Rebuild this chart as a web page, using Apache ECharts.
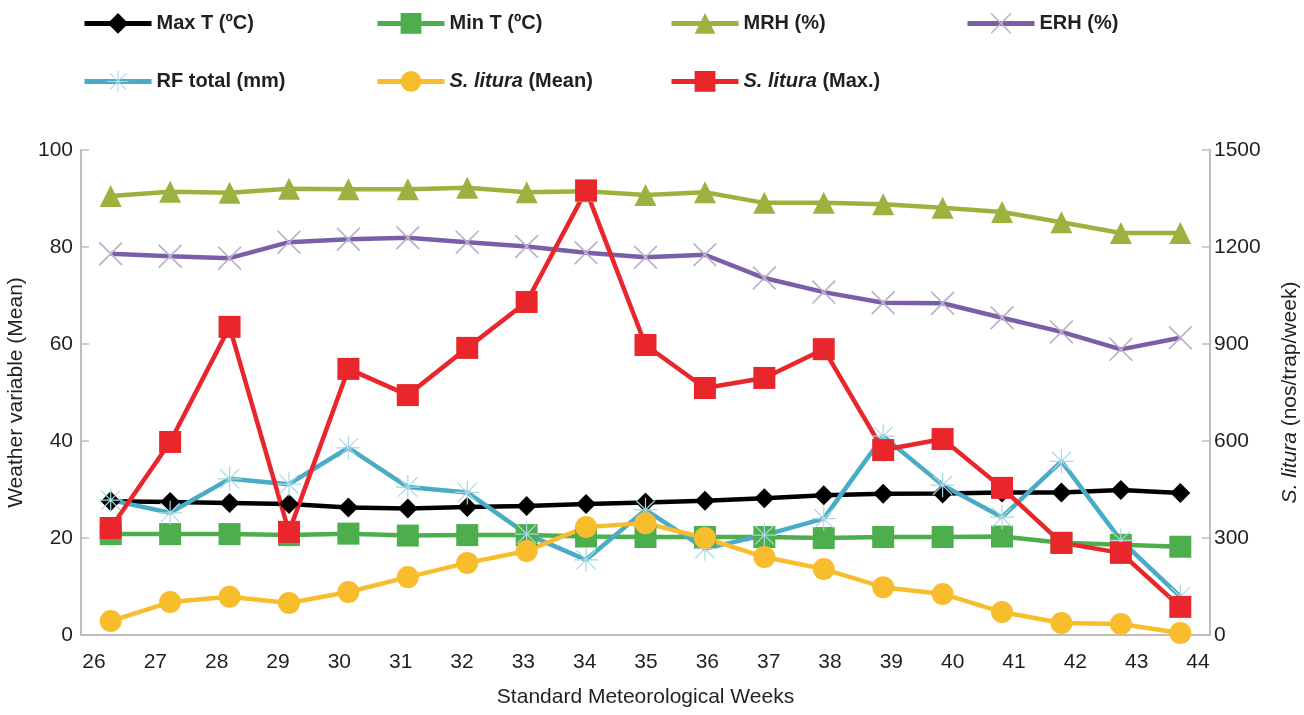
<!DOCTYPE html>
<html>
<head>
<meta charset="utf-8">
<script src="https://cdn.jsdelivr.net/npm/echarts@6/dist/echarts.min.js"></script>
<style>
html,body{margin:0;padding:0;background:#fff;}
#c{width:1304px;height:715px;}
</style>
</head>
<body>
<div id="c"></div>
<script>
var weeks = [26,27,28,29,30,31,32,33,34,35,36,37,38,39,40,41,42,43,44];
var maxT = [27.6,27.4,27.2,27.0,26.3,26.1,26.4,26.6,27.0,27.3,27.7,28.2,28.8,29.1,29.2,29.4,29.4,29.9,29.3];
var minT = [20.8,20.8,20.8,20.6,20.9,20.5,20.6,20.6,20.3,20.2,20.2,20.2,20.0,20.2,20.2,20.3,19.0,18.6,18.2];
var mrh = [90.5,91.4,91.2,92.0,91.9,91.9,92.2,91.3,91.5,90.7,91.3,89.1,89.1,88.8,88.1,87.2,85.1,82.9,82.9];
var erh = [78.6,78.1,77.7,81.0,81.6,81.9,81.0,80.1,78.8,77.9,78.4,73.6,70.7,68.5,68.4,65.4,62.5,58.9,61.3];
var rf = [27.8,25.2,32.2,31.1,38.6,30.5,29.4,20.8,15.5,25.8,17.8,20.6,24.0,41.0,30.9,24.3,35.8,19.5,7.9];
var slMean = [43,102,118,99,133,179,223,260,334,346,300,241,204,148,127,71,37,34,6];
var slMax = [331,597,953,319,823,742,888,1030,1375,897,764,795,884,572,606,455,285,254,87];
var leftTicks = [0,20,40,60,80,100];
var rightTicks = [0,300,600,900,1200,1500];

var FONT = '"Liberation Sans Narrow","Arial Narrow","Liberation Sans",Arial,sans-serif';
var TXT = '#231f20';

var crossPath = 'path://M0,1.2L1.2,0L12,10.8L22.8,0L24,1.2L13.2,12L24,22.8L22.8,24L12,13.2L1.2,24L0,22.8L10.8,12Z';
var starPath = 'path://M11.4,0L12.6,0L12.6,24L11.4,24Z M0,11.4L24,11.4L24,12.6L0,12.6Z M2,2.8L2.8,2L22,21.2L21.2,22Z M21.2,2L22,2.8L2.8,22L2,21.2Z';

function lineSeries(name, data, color, symbol, size, symColor, yIdx) {
  return {
    name: name, type: 'line', data: data, yAxisIndex: yIdx || 0,
    symbol: symbol, symbolSize: size, showSymbol: true,
    lineStyle: {color: color, width: 4.5},
    itemStyle: {color: symColor || color, opacity: 1},
    emphasis: {disabled: true},
    animation: false
  };
}

function legendItem(name, left, top) {
  return {
    data: [name], left: left, top: top,
    itemWidth: 67, itemHeight: 26, itemGap: 6,
    lineStyle: {width: 5},
    formatter: function (n) {
      if (n.indexOf('S. litura') === 0) return '{i|S. litura}' + n.slice(9);
      return n;
    },
    textStyle: {
      fontFamily: FONT, fontSize: 20, fontWeight: 'bold', color: TXT,
      rich: {i: {fontFamily: FONT, fontSize: 20, fontWeight: 'bold', fontStyle: 'italic', color: TXT}}
    }
  };
}

function plain(v) { return String(v); }

var chart = echarts.init(document.getElementById('c'), null, {renderer: 'canvas'});
chart.setOption({
  backgroundColor: '#fff',
  animation: false,
  legend: [
    legendItem('Max T (ºC)', 77, 8),
    legendItem('Min T (ºC)', 370, 8),
    legendItem('MRH (%)', 664, 8),
    legendItem('ERH (%)', 960, 8),
    legendItem('RF total (mm)', 77, 66),
    legendItem('S. litura (Mean)', 370, 66),
    legendItem('S. litura (Max.)', 664, 66)
  ],
  grid: {left: 81, right: 94, top: 150, bottom: 80, containLabel: false, outerBoundsMode: 'none'},
  xAxis: [{
    type: 'category', data: weeks, boundaryGap: true,
    axisLine: {lineStyle: {color: '#bdbdbd', width: 2}},
    axisTick: {show: false}, axisLabel: {show: false}, splitLine: {show: false}
  }, {
    type: 'value', min: 25.788, max: 44.196, position: 'bottom',
    axisLine: {show: false}, axisTick: {show: false}, splitLine: {show: false},
    axisLabel: {customValues: weeks, formatter: plain, margin: 17, fontFamily: FONT, fontSize: 21, color: TXT},
    name: 'Standard Meteorological Weeks', nameLocation: 'middle', nameGap: 52,
    nameTextStyle: {fontFamily: FONT, fontSize: 21, color: TXT}
  }],
  yAxis: [{
    type: 'value', min: 0, max: 100, interval: 20, position: 'left',
    axisLine: {show: true, lineStyle: {color: '#bdbdbd', width: 2}},
    axisTick: {show: true, inside: true, length: 8, lineStyle: {color: '#bdbdbd', width: 1.5}},
    splitLine: {show: false},
    axisLabel: {customValues: leftTicks, formatter: plain, margin: 8, fontFamily: FONT, fontSize: 21, color: TXT},
    name: 'Weather variable (Mean)', nameLocation: 'middle', nameGap: 46,
    nameTextStyle: {fontFamily: FONT, fontSize: 21, color: TXT}
  }, {
    type: 'value', min: 0, max: 1500, interval: 300, position: 'right',
    axisLine: {show: true, lineStyle: {color: '#bdbdbd', width: 2}},
    axisTick: {show: true, inside: true, length: 8, lineStyle: {color: '#bdbdbd', width: 1.5}},
    splitLine: {show: false},
    axisLabel: {customValues: rightTicks, formatter: plain, margin: 4, fontFamily: FONT, fontSize: 21, color: TXT},
    name: '{i|S. litura} (nos/trap/week)', nameLocation: 'middle', nameGap: 70,
    nameTextStyle: {fontFamily: FONT, fontSize: 21, color: TXT,
      rich: {i: {fontFamily: FONT, fontSize: 21, fontStyle: 'italic', color: TXT}}}
  }],
  series: [
    lineSeries('Max T (ºC)', maxT, '#000000', 'diamond', 20),
    lineSeries('Min T (ºC)', minT, '#4cae4c', 'rect', 22),
    lineSeries('MRH (%)', mrh, '#9bb23e', 'triangle', 22),
    lineSeries('ERH (%)', erh, '#7a5fa8', crossPath, 24, '#b9b2cc'),
    lineSeries('RF total (mm)', rf, '#4aabc6', starPath, 24, '#a8d8e4'),
    lineSeries('S. litura (Mean)', slMean, '#f8bd2d', 'circle', 22, null, 1),
    lineSeries('S. litura (Max.)', slMax, '#e8262b', 'rect', 22, null, 1)
  ]
});
</script>
</body>
</html>
